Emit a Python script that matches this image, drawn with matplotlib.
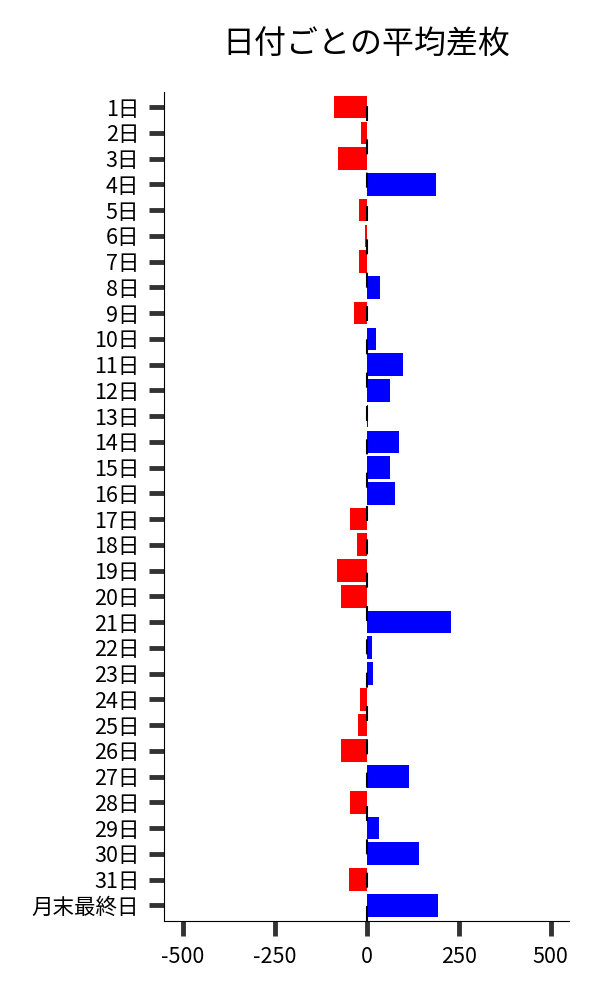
import matplotlib
matplotlib.use("Agg")
import matplotlib.pyplot as plt

plt.rcParams['font.family'] = ['Noto Sans CJK JP', 'DejaVu Sans']
plt.rcParams['axes.unicode_minus'] = False

days = [f"{i}日" for i in range(1, 32)] + ["月末最終日"]
avg_diff = [-89, -15, -78, 188, -21, -4, -21, 36, -35, 25,
            99, 63, 5, 88, 63, 77, -46, -27, -81, -70,
            229, 14, 17, -18, -24, -70, 114, -46, 33, 142,
            -48, 193]

colors = ['blue' if v > 0 else 'red' for v in avg_diff]

fig = plt.figure(figsize=(6, 10), dpi=100)
ax = fig.add_axes([0.2738, 0.0793, 0.6745, 0.829])

pos = range(len(days))
ax.barh(pos, avg_diff, height=0.88, color=colors, zorder=2)
# zero line, drawn over the bars
ax.axvline(0, color='black', lw=1.5, linestyle=(0, (7.2, 8.8)), zorder=3)

ax.set_yticks(list(pos))
ax.set_yticklabels(days)
ax.set_ylim(len(days) - 0.4, -0.6)
ax.set_xlim(-550, 550)
ax.set_xticks([-500, -250, 0, 250, 500])

ax.tick_params(axis='both', length=11, width=3.5, color='#333333',
               labelsize=15.5, pad=7)
for s in ['top', 'right']:
    ax.spines[s].set_visible(False)

ax.set_title('日付ごとの平均差枚', fontsize=23, pad=27)

fig.savefig('out.png')
